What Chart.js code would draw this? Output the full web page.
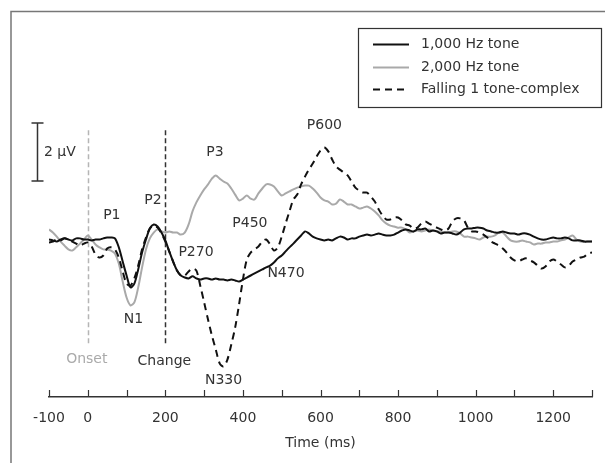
<!DOCTYPE html>
<html>
<head>
<meta charset="utf-8">
<script src="https://cdn.jsdelivr.net/npm/chart.js@4"></script>
<style>
    html, body { margin: 0; padding: 0; background: #fff; }
    #wrap { width: 605px; height: 463px; }
</style>
</head>
<body>
<div id="wrap"><canvas id="erpChart" width="605" height="463"></canvas></div>
<script>
// sample times (ms), one every 10 ms
const times = Array.from({ length: 141 }, (_, i) => -100 + i * 10);

// amplitudes in µV
const tone1000 = [
    -0.07, -0.10, -0.14, -0.07, -0.03, -0.07, -0.10, -0.03, -0.03, -0.07,
    -0.07, -0.10, -0.07, -0.07, -0.03, 0, 0, -0.03, -0.34, -0.83,
    -1.31, -1.72, -1.59, -1.10, -0.52, -0.07, 0.31, 0.45, 0.38, 0.17,
    -0.10, -0.48, -0.83, -1.14, -1.31, -1.38, -1.41, -1.34, -1.41, -1.45,
    -1.41, -1.41, -1.45, -1.41, -1.45, -1.45, -1.48, -1.45, -1.48, -1.52,
    -1.45, -1.38, -1.31, -1.24, -1.17, -1.10, -1.03, -0.97, -0.86, -0.72,
    -0.62, -0.48, -0.34, -0.21, -0.07, 0.07, 0.21, 0.14, 0.03, -0.03,
    -0.07, -0.10, -0.07, -0.10, -0.03, 0.03, 0, -0.07, -0.03, -0.03,
    0.03, 0.07, 0.10, 0.07, 0.10, 0.14, 0.10, 0.07, 0.07, 0.10,
    0.17, 0.24, 0.28, 0.24, 0.21, 0.28, 0.28, 0.31, 0.21, 0.24,
    0.21, 0.14, 0.17, 0.17, 0.14, 0.10, 0.17, 0.28, 0.31, 0.31,
    0.34, 0.34, 0.31, 0.24, 0.21, 0.17, 0.17, 0.21, 0.17, 0.14,
    0.14, 0.10, 0.14, 0.14, 0.10, 0.03, -0.03, -0.07, -0.07, -0.03,
    0, -0.03, -0.03, 0, -0.03, -0.10, -0.10, -0.10, -0.14, -0.14,
    -0.14
];

const tone2000 = [
    0.28, 0.17, 0.03, -0.14, -0.28, -0.41, -0.45, -0.34, -0.21, -0.07,
    0.07, -0.07, -0.24, -0.34, -0.41, -0.41, -0.45, -0.55, -0.90, -1.52,
    -2.07, -2.34, -2.24, -1.72, -1.03, -0.41, -0.03, 0.17, 0.28, 0.21,
    0.17, 0.21, 0.17, 0.17, 0.10, 0.17, 0.45, 0.90, 1.21, 1.45,
    1.66, 1.83, 2.03, 2.14, 2.03, 1.93, 1.86, 1.69, 1.48, 1.28,
    1.34, 1.45, 1.34, 1.31, 1.52, 1.69, 1.83, 1.83, 1.76, 1.59,
    1.45, 1.52, 1.59, 1.66, 1.72, 1.76, 1.79, 1.79, 1.69, 1.55,
    1.38, 1.28, 1.24, 1.14, 1.17, 1.31, 1.24, 1.14, 1.14, 1.07,
    1.00, 1.03, 1.07, 1.00, 0.90, 0.76, 0.59, 0.48, 0.41, 0.38,
    0.34, 0.34, 0.28, 0.17, 0.21, 0.24, 0.21, 0.24, 0.28, 0.24,
    0.21, 0.21, 0.17, 0.17, 0.21, 0.21, 0.14, 0.03, 0.03, 0,
    -0.03, -0.07, 0, 0.03, 0.03, 0.07, 0.17, 0.17, 0.03, -0.10,
    -0.14, -0.14, -0.10, -0.14, -0.17, -0.24, -0.21, -0.21, -0.17, -0.17,
    -0.14, -0.14, -0.10, -0.07, 0, 0.07, -0.07, -0.14, -0.14, -0.14,
    -0.14
];

const fallingComplex = [
    -0.17, -0.14, -0.07, -0.10, -0.03, -0.07, -0.14, -0.21, -0.28, -0.21,
    -0.17, -0.31, -0.59, -0.69, -0.62, -0.38, -0.34, -0.41, -0.69, -1.17,
    -1.59, -1.66, -1.41, -0.97, -0.41, 0, 0.31, 0.41, 0.34, 0.14,
    -0.14, -0.48, -0.83, -1.14, -1.31, -1.31, -1.17, -1.07, -1.14, -1.66,
    -2.24, -2.83, -3.38, -3.86, -4.34, -4.45, -4.21, -3.69, -3.10, -2.31,
    -1.45, -0.76, -0.52, -0.41, -0.31, -0.14, -0.07, -0.24, -0.45, -0.34,
    0.03, 0.48, 0.90, 1.31, 1.48, 1.83, 2.10, 2.34, 2.55, 2.79,
    3.00, 3.10, 2.97, 2.69, 2.45, 2.34, 2.24, 2.14, 1.93, 1.72,
    1.62, 1.55, 1.55, 1.41, 1.24, 0.97, 0.76, 0.62, 0.62, 0.69,
    0.69, 0.59, 0.45, 0.41, 0.31, 0.34, 0.48, 0.55, 0.48, 0.41,
    0.34, 0.28, 0.24, 0.31, 0.55, 0.66, 0.66, 0.59, 0.34, 0.21,
    0.21, 0.17, 0.10, 0, -0.14, -0.21, -0.28, -0.38, -0.52, -0.69,
    -0.79, -0.83, -0.76, -0.72, -0.79, -0.86, -0.97, -1.07, -1.00, -0.83,
    -0.76, -0.83, -0.93, -1.03, -0.97, -0.83, -0.76, -0.69, -0.66, -0.55,
    -0.52
];

const seriesLabels = ['1,000 Hz tone', '2,000 Hz tone', 'Falling 1 tone-complex'];

// x tick labels shown on the time axis
const tickLabels = [-100, 0, 200, 400, 600, 800, 1000, 1200];

// component names and where they sit (ms, µV)
const peakNames = ['P1', 'P2', 'N1', 'P3', 'P270', 'P450', 'N470', 'P600', 'N330'];
const peakTimes = [62, 168, 118, 328, 279, 418, 511, 610, 350];
const peakAmps = [0.76, 1.28, -2.83, 2.93, -0.52, 0.48, -1.24, 3.86, -4.93];

// event markers
const markerNames = ['Onset', 'Change'];
const markerTimes = [0, 200];

const FONT = "'DejaVu Sans', sans-serif";
const TEXT = '#333';

function toPoints(values) {
    return times.map((t, i) => ({ x: t, y: values[i] }));
}

const erpDecor = {
    id: 'erpDecor',
    beforeDatasetsDraw(chart) {
        const ctx = chart.ctx;
        const x = chart.scales.x;
        const y = chart.scales.y;
        ctx.save();
        // stimulus onset / change lines
        const colors = ['#b5b5b5', '#333'];
        markerTimes.forEach((t, i) => {
            const px = Math.round(x.getPixelForValue(t)) + 0.5;
            ctx.strokeStyle = colors[i];
            ctx.lineWidth = 1.5;
            ctx.setLineDash([5, 3]);
            ctx.beginPath();
            ctx.moveTo(px, y.getPixelForValue(3.7));
            ctx.lineTo(px, y.getPixelForValue(-3.7));
            ctx.stroke();
        });
        ctx.restore();
    },
    afterDraw(chart) {
        const ctx = chart.ctx;
        const x = chart.scales.x;
        const y = chart.scales.y;
        const area = chart.chartArea;
        ctx.save();

        // frame lines (left and top)
        ctx.strokeStyle = '#777';
        ctx.lineWidth = 1.5;
        ctx.beginPath();
        ctx.moveTo(11, 463);
        ctx.lineTo(11, 11.5);
        ctx.lineTo(605, 11.5);
        ctx.stroke();

        // tick marks pointing up from the axis
        ctx.strokeStyle = '#333';
        ctx.lineWidth = 1.2;
        x.ticks.forEach(tick => {
            const px = Math.round(x.getPixelForValue(tick.value)) + 0.5;
            ctx.beginPath();
            ctx.moveTo(px, area.bottom - 7);
            ctx.lineTo(px, area.bottom);
            ctx.stroke();
        });

        // 2 µV scale bar
        const barX = 37.5;
        const top = y.getPixelForValue(3.95);
        const bottom = y.getPixelForValue(1.95);
        ctx.lineWidth = 1.5;
        ctx.beginPath();
        ctx.moveTo(barX, top);
        ctx.lineTo(barX, bottom);
        ctx.moveTo(barX - 6, top);
        ctx.lineTo(barX + 6, top);
        ctx.moveTo(barX - 6, bottom);
        ctx.lineTo(barX + 6, bottom);
        ctx.stroke();
        ctx.font = '14px ' + FONT;
        ctx.fillStyle = TEXT;
        ctx.textAlign = 'left';
        ctx.textBaseline = 'middle';
        ctx.fillText('2 µV', 44, y.getPixelForValue(2.93));

        // component labels
        ctx.textAlign = 'center';
        peakNames.forEach((name, i) => {
            ctx.fillText(name, x.getPixelForValue(peakTimes[i]), y.getPixelForValue(peakAmps[i]));
        });

        // marker labels
        ctx.fillStyle = '#aaa';
        ctx.fillText(markerNames[0], x.getPixelForValue(markerTimes[0]) - 1, 359);
        ctx.fillStyle = TEXT;
        ctx.fillText(markerNames[1], x.getPixelForValue(markerTimes[1]) - 1, 361);

        // legend box
        ctx.strokeStyle = '#333';
        ctx.lineWidth = 1.2;
        ctx.setLineDash([]);
        ctx.strokeRect(358.5, 28.5, 243, 79);
        ctx.textAlign = 'left';
        const rows = [44.5, 67.5, 89.5];
        chart.data.datasets.forEach((ds, i) => {
            ctx.strokeStyle = ds.borderColor;
            ctx.lineWidth = ds.borderWidth;
            ctx.setLineDash(ds.borderDash || []);
            ctx.beginPath();
            ctx.moveTo(373, rows[i]);
            ctx.lineTo(409, rows[i]);
            ctx.stroke();
            ctx.fillStyle = TEXT;
            ctx.fillText(ds.label, 421, rows[i]);
        });
        ctx.restore();
    }
};

const ctx = document.getElementById('erpChart').getContext('2d');
const erpChart = new Chart(ctx, {
    type: 'line',
    data: {
        datasets: [
            {
                label: seriesLabels[0],
                data: toPoints(tone1000),
                borderColor: '#111',
                borderWidth: 2,
                pointRadius: 0,
                tension: 0.3,
                order: 1
            },
            {
                label: seriesLabels[1],
                data: toPoints(tone2000),
                borderColor: '#a9a9a9',
                borderWidth: 2,
                pointRadius: 0,
                tension: 0.3,
                order: 3
            },
            {
                label: seriesLabels[2],
                data: toPoints(fallingComplex),
                borderColor: '#111',
                borderWidth: 2,
                borderDash: [7, 5],
                pointRadius: 0,
                tension: 0.3,
                order: 2
            }
        ]
    },
    options: {
        responsive: false,
        animation: false,
        layout: {
            padding: { left: 49, right: 10, top: 118.6, bottom: 11 }
        },
        plugins: {
            legend: { display: false },
            tooltip: { enabled: false }
        },
        scales: {
            x: {
                type: 'linear',
                min: -100,
                max: 1300,
                grid: { display: false, drawTicks: false, tickLength: 0 },
                border: { display: true, color: '#333', width: 1.5 },
                ticks: {
                    stepSize: 100,
                    autoSkip: false,
                    maxRotation: 0,
                    padding: 13,
                    color: TEXT,
                    font: { family: FONT, size: 14 },
                    callback: function(value) {
                        return tickLabels.includes(value) ? String(value) : '';
                    }
                },
                title: {
                    display: true,
                    text: 'Time (ms)',
                    color: TEXT,
                    padding: { top: 8, bottom: 0 },
                    font: { family: FONT, size: 14 }
                },
                afterFit: function(scale) {
                    scale.height = 55;
                }
            },
            y: {
                display: false,
                min: -5.5,
                max: 4.1
            }
        }
    },
    plugins: [erpDecor]
});
</script>
</body>
</html>
